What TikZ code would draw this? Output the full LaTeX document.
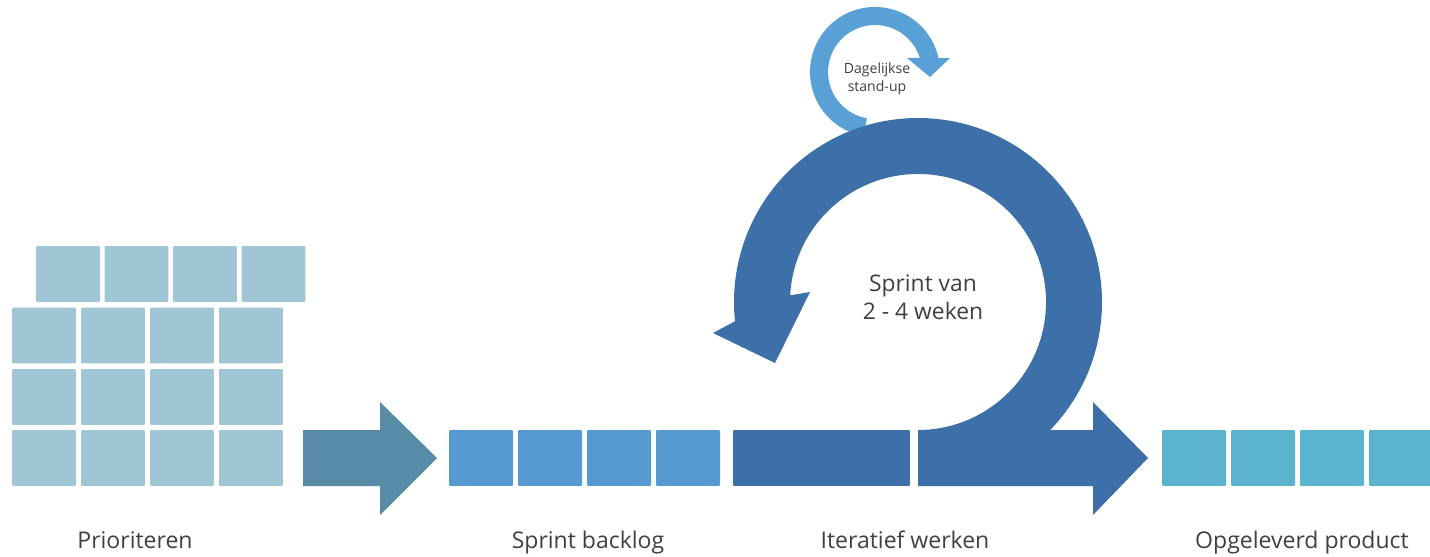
\documentclass[tikz,border=0pt]{standalone}
\usepackage{fontspec}
\setmainfont{Open Sans}
\definecolor{gridcol}{RGB}{160,197,212}
\definecolor{arrowcol}{RGB}{88,140,166}
\definecolor{backlogcol}{RGB}{84,153,207}
\definecolor{bigblue}{RGB}{61,112,168}
\definecolor{smallblue}{RGB}{88,160,213}
\definecolor{productcol}{RGB}{91,179,206}
\definecolor{textcol}{RGB}{64,64,64}
\begin{document}
\begin{tikzpicture}[x=0.02cm,y=-0.02cm,
  tile/.style={inner sep=0pt,outer sep=0pt,minimum width=1.28cm,minimum height=1.12cm,rounded corners=0.6pt},
  gridbox/.style={tile,fill=gridcol},
  backlogbox/.style={tile,fill=backlogcol},
  productbox/.style={tile,fill=productcol},
  steplabel/.style={anchor=base,text=textcol,font=\fontsize{13.1}{15}\selectfont},
  ringtext/.style={align=center,text=textcol,inner sep=0pt}]
\useasboundingbox (0,0) rectangle (1430,557);
\clip (0,0) rectangle (1430,557);
% product backlog grid
\foreach \c [count=\i] in {68,136.5,205,273.5} {\node[gridbox] (g1\i) at (\c,274) {};}
\foreach \r [count=\j from 2] in {335.5,397,458} {
  \foreach \c [count=\i] in {44,113,182,251} {\node[gridbox] (g\j\i) at (\c,\r) {};}
}
% arrow to sprint backlog
\fill[arrowcol] (303,430) -- (380,430) -- (380,402) -- (437,458) -- (380,515) -- (380,486) -- (303,486) -- cycle;
% sprint backlog
\foreach \c [count=\i] in {481,550,619,688} {\node[backlogbox] (b\i) at (\c,458) {};}
% iteratief box
\node[tile,fill=bigblue,minimum width=3.54cm] (iter) at (821.5,458) {};
% small daily ring
\fill[smallblue] (863.7,136) arc[start angle=100,end angle=347.6,radius=65]
  -- (950,58) -- (930,77) -- (907,58) -- (919.9,58)
  arc[start angle=342.7,end angle=100,radius=47] -- cycle;
% big sprint ring
\fill[bigblue] (918,486) arc[start angle=90,end angle=-186,radius=184]
  -- (713,333) -- (775,363) -- (810,292) -- (790.2,295.3)
  arc[start angle=-177,end angle=90,radius=128] -- cycle;
\fill[bigblue] (918,430) -- (1093,430) -- (1093,402) -- (1148,458) -- (1093,515) -- (1093,486) -- (918,486) -- cycle;
% delivered product
\foreach \c [count=\i] in {1194,1263,1332,1401} {\node[productbox] (p\i) at (\c,458) {};}
% texts
\node[ringtext,font=\fontsize{8}{10}\selectfont] (daily) at (877,79) {Dagelijkse\\stand-up};
\node[ringtext,font=\fontsize{13}{16}\selectfont] (sprint) at (923,297) {Sprint van\\2 - 4 weken};
\node[steplabel] (l1) at (135,548) {Prioriteren};
\node[steplabel] (l2) at (588,548) {Sprint backlog};
\node[steplabel] (l3) at (905,548) {Iteratief werken};
\node[steplabel] (l4) at (1302,548) {Opgeleverd product};
\end{tikzpicture}
\end{document}
